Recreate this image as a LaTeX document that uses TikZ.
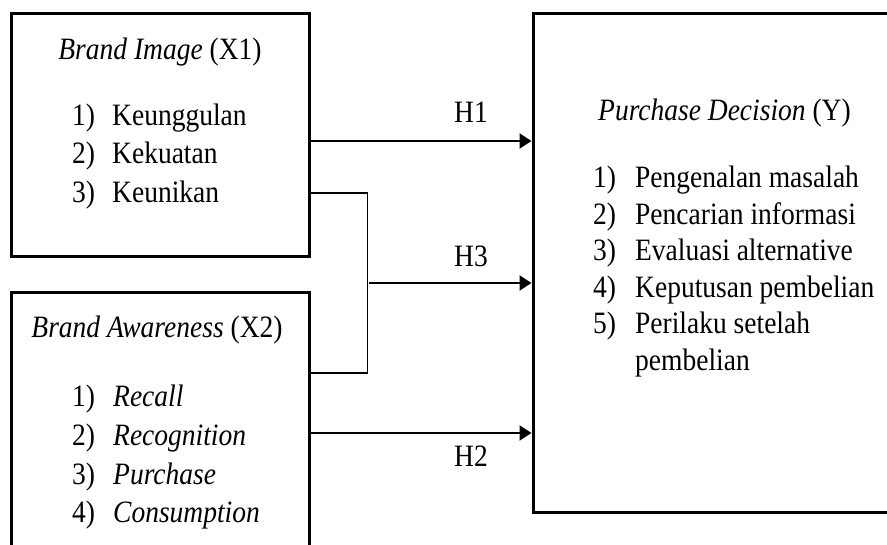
\documentclass[tikz,border=0pt]{standalone}
\usepackage{fontspec}
\usepackage{graphicx}
\setmainfont{Liberation Serif}
\usetikzlibrary{arrows.meta}

\newcommand{\tall}[1]{\scalebox{1}[1.13]{#1}}

\begin{document}
\begin{tikzpicture}[x=1pt,y=-1pt,font=\fontsize{27.5}{38}\selectfont,
    var box/.style={rectangle,draw,line width=3pt,inner sep=0pt},
    title/.style={anchor=base,inner sep=0pt},
    item/.style={anchor=base west,inner sep=0pt},
    link/.style={line width=2pt,-{Triangle[length=12pt,width=15pt]}}]

	\path[use as bounding box,clip] (0,0) rectangle (887,545);

	% variable boxes
	\node[var box,minimum width=298pt,minimum height=243pt] (x1) at (160,135.5) {};
	\node[var box,minimum width=298pt,minimum height=267pt] (x2) at (160,426.5) {};
	\node[var box,minimum width=367pt,minimum height=498pt] (y) at (716.5,263) {};

	% titles
	\node[title] (x1t) at (160,60) {\tall{\textit{Brand Image} (X1)}};
	\node[title] (x2t) at (157,338) {\tall{\textit{Brand Awareness} (X2)}};
	\node[item] (yt) at (598,121) {\tall{\textit{Purchase Decision} (Y)}};

	% indicators
	\foreach \t [count=\i] in {Keunggulan,Kekuatan,Keunikan}
		\node[item] (x1i\i) at (72,{125.5+38.5*(\i-1)}) {\tall{\makebox[40pt][l]{\i)}\t}};
	\foreach \t [count=\i] in {Recall,Recognition,Purchase,Consumption}
		\node[item] (x2i\i) at (72,{407+38.5*(\i-1)}) {\tall{\makebox[41pt][l]{\i)}\textit{\t}}};
	\foreach \t [count=\i] in {Pengenalan masalah,Pencarian informasi,Evaluasi alternative,Keputusan pembelian,Perilaku setelah}
		\node[item] (yi\i) at (593,{188+36.5*(\i-1)}) {\tall{\makebox[42pt][l]{\i)}\t}};
	\node[item] (yi6) at (635,370.5) {\tall{pembelian}};

	% hypotheses
	\draw[link] ([yshift=-5.5pt]x1.east) coordinate (h1s) -- (h1s -| y.west);
	\draw[line width=1.3pt] ([yshift=-57.5pt]x1.east) -| ([xshift=57pt,yshift=53.5pt]x2.east) -- ([yshift=53.5pt]x2.east);
	\coordinate (jn) at (369,283);
	\draw[link] (jn) -- (jn -| y.west);
	\draw[link] ([yshift=-6.5pt]x2.east) coordinate (h2s) -- (h2s -| y.west);

	\node[title] (h1) at (471,123) {\tall{H1}};
	\node[title] (h3) at (471,267) {\tall{H3}};
	\node[title] (h2) at (471,467) {\tall{H2}};

\end{tikzpicture}
\end{document}
